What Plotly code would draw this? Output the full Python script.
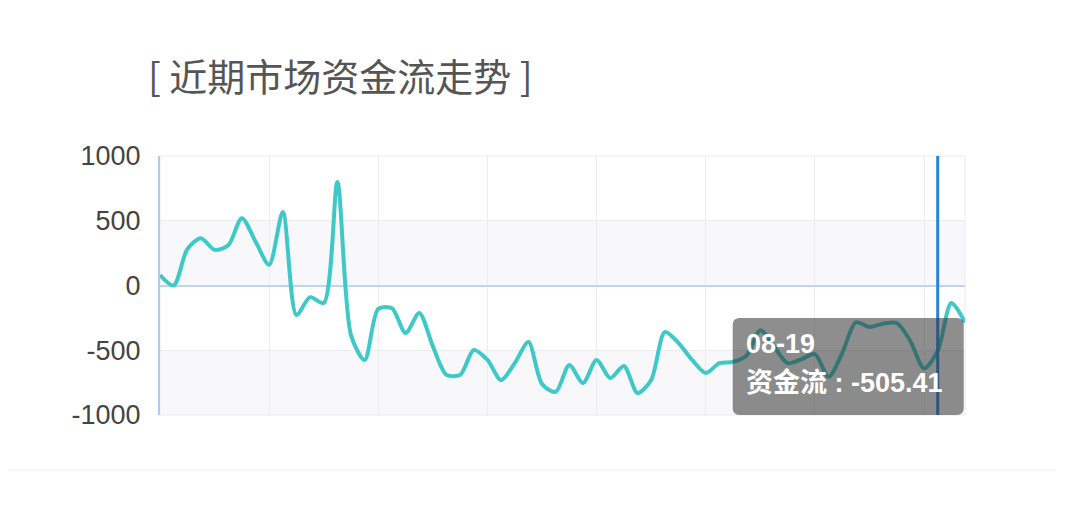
import plotly.graph_objects as go

# Trading days (categories) and daily fund flow values
dates = [
    "06-01", "06-02", "06-03", "06-06", "06-07", "06-08", "06-09", "06-10",
    "06-13", "06-14", "06-15", "06-16", "06-17", "06-20", "06-21", "06-22",
    "06-23", "06-24", "06-27", "06-28", "06-29", "06-30", "07-01", "07-04",
    "07-05", "07-06", "07-07", "07-08", "07-11", "07-12", "07-13", "07-14",
    "07-15", "07-18", "07-19", "07-20", "07-21", "07-22", "07-25", "07-26",
    "07-27", "07-28", "07-29", "08-01", "08-02", "08-03", "08-04", "08-05",
    "08-08", "08-09", "08-10", "08-11", "08-12", "08-15", "08-16", "08-17",
    "08-18", "08-19", "08-22", "08-23",
]
flow = [
    80, 0, 280, 365, 275, 310, 520, 340,
    160, 568, -228, -90, -135, 800, -385, -575,
    -180, -175, -367, -212, -470, -690, -690, -498,
    -575, -730, -600, -437, -760, -822, -614, -753,
    -575, -714, -622, -830, -730, -360, -444, -575,
    -676, -600, -590, -540, -345, -470, -600, -570,
    -530, -705, -523, -285, -320, -295, -290, -430,
    -640, -505.41, -135, -285,
]
y_ticks = [-1000, -500, 0, 500, 1000]
y_labels = ["-1000", "-500", "0", "500", "1000"]
hover_idx = 57  # point shown in the tooltip

fig = go.Figure()

fig.add_trace(go.Scatter(
    x=dates, y=flow,
    mode="lines",
    line=dict(color="#3fc8c8", width=4, shape="spline", smoothing=0.8),
    hoverinfo="skip",
))

shapes = []
# alternating split areas
for lo, hi in [(0, 500), (-1000, -500)]:
    shapes.append(dict(type="rect", xref="paper", yref="y", x0=0, x1=1, y0=lo, y1=hi,
                       fillcolor="#f8f8fa", line_width=0, layer="below"))
# plot border
shapes.append(dict(type="rect", xref="paper", yref="paper", x0=0, x1=1, y0=0, y1=1,
                   line=dict(color="#ececf0", width=1), layer="below"))
# page separator under the chart
shapes.append(dict(type="line", xref="paper", yref="paper", x0=-0.2, x1=1.112, y0=-0.212, y1=-0.212,
                   line=dict(color="#eeeeee", width=1)))
# axis pointer
shapes.append(dict(type="line", xref="x", yref="paper", x0=dates[hover_idx], x1=dates[hover_idx],
                   y0=0, y1=1, line=dict(color="#2a82d4", width=3), layer="above"))
# tooltip box (rounded, pixel sized, anchored to the hovered point)
x0, x1, y0, y1, r = -205, 26, 0, 97, 7
box = (f"M {x0 + r},{y0} L {x1 - r},{y0} Q {x1},{y0} {x1},{y0 + r} "
       f"L {x1},{y1 - r} Q {x1},{y1} {x1 - r},{y1} L {x0 + r},{y1} "
       f"Q {x0},{y1} {x0},{y1 - r} L {x0},{y0 + r} Q {x0},{y0} {x0 + r},{y0} Z")
shapes.append(dict(type="path", xref="x", yref="y", xsizemode="pixel", ysizemode="pixel",
                   xanchor=dates[hover_idx], yanchor=-1000, path=box,
                   fillcolor="rgba(50,50,50,0.55)", line_width=0, layer="above"))

tip_font = dict(family="Liberation Sans, Noto Sans CJK SC", size=27, color="white", weight="bold")
annotations = [
    dict(text=dates[hover_idx], xref="paper", yref="paper", x=0.726, y=0.275,
         xanchor="left", yanchor="middle", showarrow=False, font=tip_font),
    dict(text=f"资金流 : {flow[hover_idx]}", xref="paper", yref="paper", x=0.726, y=0.122,
         xanchor="left", yanchor="middle", showarrow=False, font=tip_font),
]

fig.update_layout(
    width=1080, height=526, autosize=False,
    margin=dict(l=152, r=123, t=148, b=119),
    paper_bgcolor="white", plot_bgcolor="white",
    showlegend=False,
    title=dict(text="[ 近期市场资金流走势 ]", x=140 / 1080, xref="container", xanchor="left",
               y=1 - 70 / 526, yref="container", yanchor="middle",
               font=dict(family="Noto Sans CJK SC", size=38, color="#555555")),
    shapes=shapes,
    annotations=annotations,
    xaxis=dict(
        type="category", range=[0, len(dates) - 1],
        tickmode="array", tickvals=dates[::8], showticklabels=False,
        showgrid=True, gridcolor="#ececf0", gridwidth=1,
        zeroline=False, showline=False, fixedrange=True,
    ),
    yaxis=dict(
        range=[-1000, 1000], tickmode="array", tickvals=y_ticks, ticktext=y_labels,
        showgrid=True, gridcolor="#ececf0", gridwidth=1,
        zeroline=True, zerolinecolor="#b9d6f2", zerolinewidth=2,
        showline=True, linecolor="#a9cdf0", linewidth=2,
        ticks="", ticklabelstandoff=12,
        tickfont=dict(family="Liberation Sans, Arial", size=27, color="#444444"),
        fixedrange=True,
    ),
)

fig.write_html("out.html")
